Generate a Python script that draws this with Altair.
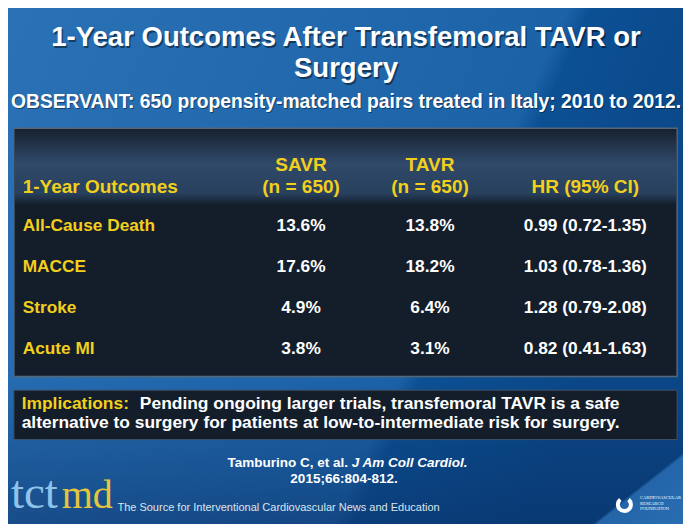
import altair as alt
import pandas as pd

# ---------------- data ----------------
outcomes = ["All-Cause Death", "MACCE", "Stroke", "Acute MI"]
savr = ["13.6%", "17.6%", "4.9%", "3.8%"]
tavr = ["13.8%", "18.2%", "6.4%", "3.1%"]
hr = ["0.99 (0.72-1.35)", "1.03 (0.78-1.36)", "1.28 (0.79-2.08)", "0.82 (0.41-1.63)"]
head_line1 = ["SAVR", "TAVR", ""]
head_line2 = ["(n = 650)", "(n = 650)", "HR (95% CI)"]
row_header = "1-Year Outcomes"

title_1 = "1-Year Outcomes After Transfemoral TAVR or"
title_2 = "Surgery"
subtitle = "OBSERVANT: 650 propensity-matched pairs treated in Italy; 2010 to 2012."
impl_label = "Implications:"
impl_1 = "Pending ongoing larger trials, transfemoral TAVR is a safe"
impl_2 = "alternative to surgery for patients at low-to-intermediate risk for surgery."
cite_a = "Tamburino C, et al."
cite_b = "J Am Coll Cardiol."
cite_c = "2015;66:804-812."
tagline = "The Source for Interventional Cardiovascular News and Education"
crf_lines = ["CARDIOVASCULAR", "RESEARCH", "FOUNDATION"]

# ---------------- layout helpers ----------------
W, H = 675, 516
SX, SY = W / 691, H / 532
def X(v):
    return v * SX
def Y(v):
    return v * SY

FONT = "Liberation Sans"
YELLOW = "#f2cf1d"
WHITE = "#ffffff"

one = pd.DataFrame({"k": [0]})
base = alt.Chart(one)

cells = []
for i in range(len(outcomes)):
    for j, vals in enumerate([savr, tavr, hr]):
        cells.append({"row": i, "col": j, "text": vals[i]})
cells = pd.DataFrame(cells)
rows = pd.DataFrame({"row": list(range(len(outcomes))), "text": outcomes})
heads = pd.DataFrame({"col": [0, 1, 2], "l1": head_line1, "l2": head_line2})

xscale = alt.Scale(domain=[0, 1, 2], range=[X(300), X(432), X(591)], zero=False, nice=False)
yscale = alt.Scale(domain=[0, 3], range=[Y(225), Y(352)], zero=False, nice=False)

# ---------------- background ----------------
bg = base.mark_rect(
    fill=alt.LinearGradient(
        gradient="linear", x1=0, y1=0, x2=1, y2=0.35,
        stops=[
            alt.GradientStop(offset=0, color="#2a71b5"),
            alt.GradientStop(offset=0.74, color="#1c62a7"),
            alt.GradientStop(offset=0.77, color="#0c5094"),
            alt.GradientStop(offset=1, color="#0a4787"),
        ],
    )
).encode(x=alt.value(0), x2=alt.value(W), y=alt.value(0), y2=alt.value(H))

bg_bottom = base.mark_rect(
    fill=alt.LinearGradient(
        gradient="linear", x1=0, y1=0, x2=0, y2=1,
        stops=[
            alt.GradientStop(offset=0, color="rgba(8,40,90,0)"),
            alt.GradientStop(offset=1, color="rgba(8,40,90,0.45)"),
        ],
    )
).encode(x=alt.value(0), x2=alt.value(W), y=alt.value(Y(380)), y2=alt.value(H))

bg_corner = base.mark_rect(
    fill=alt.LinearGradient(
        gradient="linear", x1=0, y1=0, x2=1, y2=1,
        stops=[
            alt.GradientStop(offset=0, color="rgba(40,110,180,0)"),
            alt.GradientStop(offset=0.6, color="rgba(40,110,180,0)"),
            alt.GradientStop(offset=0.62, color="rgba(45,115,185,0.75)"),
            alt.GradientStop(offset=1, color="rgba(45,115,185,0.9)"),
        ],
    )
).encode(x=alt.value(X(575)), x2=alt.value(W), y=alt.value(Y(440)), y2=alt.value(H))

# table box
table_box = base.mark_rect(fill="#141e2b", stroke="#56677a", strokeWidth=1.5).encode(
    x=alt.value(X(6)), x2=alt.value(X(685)), y=alt.value(Y(124)), y2=alt.value(Y(380))
)
header_box = base.mark_rect(
    fill=alt.LinearGradient(
        gradient="linear", x1=0, y1=0, x2=0, y2=1,
        stops=[
            alt.GradientStop(offset=0, color="#17212f"),
            alt.GradientStop(offset=0.45, color="#30496a"),
            alt.GradientStop(offset=0.85, color="#27405c"),
            alt.GradientStop(offset=1, color="#141e2b"),
        ],
    )
).encode(x=alt.value(X(7)), x2=alt.value(X(684)), y=alt.value(Y(125)), y2=alt.value(Y(203)))

impl_box = base.mark_rect(fill="#141e2b", stroke="#3f5268", strokeWidth=1).encode(
    x=alt.value(X(6)), x2=alt.value(X(685)), y=alt.value(Y(394)), y2=alt.value(Y(445))
)

# ---------------- text helper ----------------
def txt(s, x, y, size, color=WHITE, weight="bold", align="center", style="normal",
        font=FONT, dx=0, dy=0, opacity=1.0, baseline="middle"):
    return base.mark_text(
        font=font, fontSize=size, fontWeight=weight, fontStyle=style, color=color,
        align=align, baseline=baseline, dx=dx, dy=dy, opacity=opacity,
    ).encode(x=alt.value(x), y=alt.value(y), text=alt.value(s))

titles = [
    txt(title_1, X(346), Y(31), 27.5, color="#000000", dx=1.5, dy=1.5, opacity=0.45),
    txt(title_1, X(346), Y(31), 27.5),
    txt(title_2, X(346), Y(63), 27.5, color="#000000", dx=1.5, dy=1.5, opacity=0.45),
    txt(title_2, X(346), Y(63), 27.5),
    txt(subtitle, X(346), Y(97), 19.3, color="#000000", dx=1, dy=1, opacity=0.4),
    txt(subtitle, X(346), Y(97), 19.3),
]

# ---------------- table ----------------
HS = 19
hdr_row = txt(row_header, X(15), Y(185), HS, color=YELLOW, align="left")
hdr1 = alt.Chart(heads).mark_text(font=FONT, fontSize=HS, fontWeight="bold", color=YELLOW,
                                  baseline="middle").encode(
    x=alt.X("col:Q", scale=xscale, axis=None), y=alt.value(Y(162)), text="l1:N")
hdr2 = alt.Chart(heads).mark_text(font=FONT, fontSize=HS, fontWeight="bold", color=YELLOW,
                                  baseline="middle").encode(
    x=alt.X("col:Q", scale=xscale, axis=None), y=alt.value(Y(185)), text="l2:N")

RS = 17.3
row_labels = alt.Chart(rows).mark_text(font=FONT, fontSize=RS, fontWeight="bold", color=YELLOW,
                                       align="left", baseline="middle").encode(
    x=alt.value(X(15)), y=alt.Y("row:Q", scale=yscale, axis=None), text="text:N")

values = alt.Chart(cells).mark_text(font=FONT, fontSize=RS, fontWeight="bold", color=WHITE,
                                    baseline="middle").encode(
    x=alt.X("col:Q", scale=xscale, axis=None),
    y=alt.Y("row:Q", scale=yscale, axis=None),
    text="text:N")

# ---------------- implications ----------------
IS = 17.4
impl = [
    txt(impl_label, X(14), Y(408), IS, color=YELLOW, align="left"),
    txt(impl_1, X(135), Y(408), IS, align="left"),
    txt(impl_2, X(14), Y(428), IS, align="left"),
]

# ---------------- citation & footer ----------------
CS = 13.5
cite = [
    txt(cite_a, X(348), Y(469), CS, align="right"),
    txt(cite_b, X(352), Y(469), CS, align="left", style="italic"),
    txt(cite_c, X(344), Y(486), CS),
]

footer = [
    txt("tct", X(3), Y(516), 47, color="#8fc3ea", weight="normal", align="left",
        font="Liberation Serif", baseline="alphabetic"),
    txt("md", X(55), Y(516), 40, color="#e5c53c", weight="normal", align="left",
        font="Liberation Serif", baseline="alphabetic"),
    txt(tagline, X(112), Y(515), 11, color="#dde4ec", weight="normal", align="left"),
    txt(crf_lines[0], X(647), Y(505), 4.5, color=WHITE, weight="normal", align="left",
        font="Liberation Serif"),
    txt(crf_lines[1], X(647), Y(511), 4.5, color=WHITE, weight="normal", align="left",
        font="Liberation Serif"),
    txt(crf_lines[2], X(647), Y(517), 4.5, color=WHITE, weight="normal", align="left",
        font="Liberation Serif"),
]
crf_ring = base.mark_arc(innerRadius=4.5, outerRadius=8.5, theta=0.7, theta2=5.6,
                         color=WHITE).encode(x=alt.value(X(631)), y=alt.value(Y(512)))

chart = alt.layer(
    bg, bg_bottom, bg_corner, table_box, header_box, impl_box,
    *titles, hdr_row, hdr1, hdr2, row_labels, values,
    *impl, *cite, *footer, crf_ring,
).properties(
    width=W, height=H, padding=0, autosize=alt.AutoSizeParams(type="none"),
    background="#0d4d90",
).configure_view(stroke=None)

chart.save("out.html", embed_options={"renderer": "svg", "actions": False})
